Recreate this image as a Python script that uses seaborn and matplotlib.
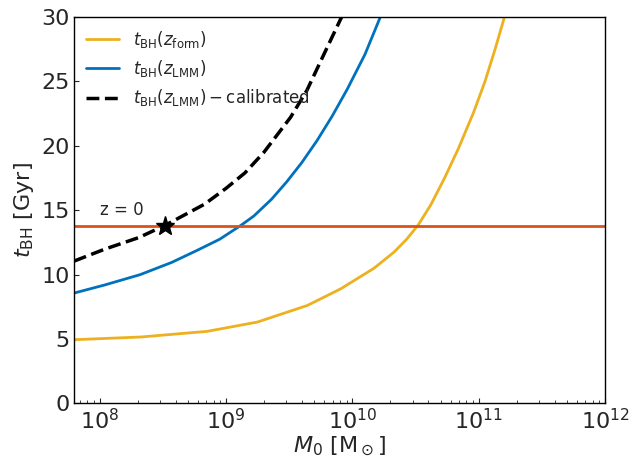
import numpy as np
import pandas as pd
import seaborn as sns
import matplotlib.pyplot as plt

# log10 of halo mass and black hole time (Gyr)
logm_form = [7.797, 8.325, 8.852, 9.248, 9.644, 9.908, 10.172, 10.33, 10.43, 10.52,
             10.62, 10.73, 10.84, 10.96, 11.05, 11.13, 11.21]
t_form = [4.95, 5.16, 5.60, 6.32, 7.61, 8.90, 10.5, 11.75, 12.75, 13.84,
          15.4, 17.5, 19.8, 22.6, 25.0, 27.5, 30.2]

logm_lmm = [7.797, 8.04, 8.32, 8.57, 8.77, 8.95, 9.12, 9.22, 9.36, 9.48,
            9.60, 9.72, 9.84, 9.96, 10.10, 10.23]
t_lmm = [8.57, 9.2, 10.0, 10.95, 11.88, 12.75, 13.84, 14.55, 15.85, 17.2,
         18.7, 20.4, 22.3, 24.4, 27.1, 30.2]

logm_cal = [7.797, 8.04, 8.31, 8.52, 8.83, 9.0, 9.15, 9.3, 9.51, 9.64, 9.77, 9.92]
t_cal = [11.05, 11.98, 12.88, 13.84, 15.47, 16.7, 17.9, 19.5, 22.2, 24.3, 27.0, 30.1]

t_universe = 13.8
m_star = 10**8.52

df_form = pd.DataFrame({'M0': np.power(10.0, logm_form), 't': t_form})
df_lmm = pd.DataFrame({'M0': np.power(10.0, logm_lmm), 't': t_lmm})
df_cal = pd.DataFrame({'M0': np.power(10.0, logm_cal), 't': t_cal})

sns.set_style('ticks')
fig = plt.figure(figsize=(6.31, 4.57), dpi=100)
ax = fig.add_axes([0.1178, 0.1171, 0.8410, 0.8457])

sns.lineplot(data=df_form, x='M0', y='t', ax=ax, color='#EDB120', linewidth=2,
             label=r'$t_{\rm BH}(z_{\rm form})$')
sns.lineplot(data=df_lmm, x='M0', y='t', ax=ax, color='#0072BD', linewidth=2,
             label=r'$t_{\rm BH}(z_{\rm LMM})$')
sns.lineplot(data=df_cal, x='M0', y='t', ax=ax, color='black', linewidth=2.5,
             linestyle='--', label=r'$t_{\rm BH}(z_{\rm LMM}) -$calibrated')

ax.axhline(t_universe, color='#D95319', linewidth=2)
ax.plot(m_star, t_universe, marker='*', color='black', markersize=14, linestyle='none')
ax.text(1.0e8, 14.3, 'z = 0', fontsize=12, ha='left', va='bottom')

ax.set_xscale('log')
ax.set_xlim(6.3e7, 1e12)
ax.set_ylim(0, 30)
ax.set_yticks([0, 5, 10, 15, 20, 25, 30])

ax.set_xlabel(r'$M_0$ [M$_\odot$]', fontsize=16, labelpad=1)
ax.set_ylabel(r'$t_{\rm BH}$ [Gyr]', fontsize=16, labelpad=4)
ax.tick_params(axis='both', which='both', direction='in', labelsize=16, top=False, right=False)

for s in ax.spines.values():
    s.set_visible(True)
    s.set_color('black')
    s.set_linewidth(1)

ax.legend(loc='upper left', frameon=False, fontsize=12, borderaxespad=0.3)

plt.savefig('out.png', dpi=100)
